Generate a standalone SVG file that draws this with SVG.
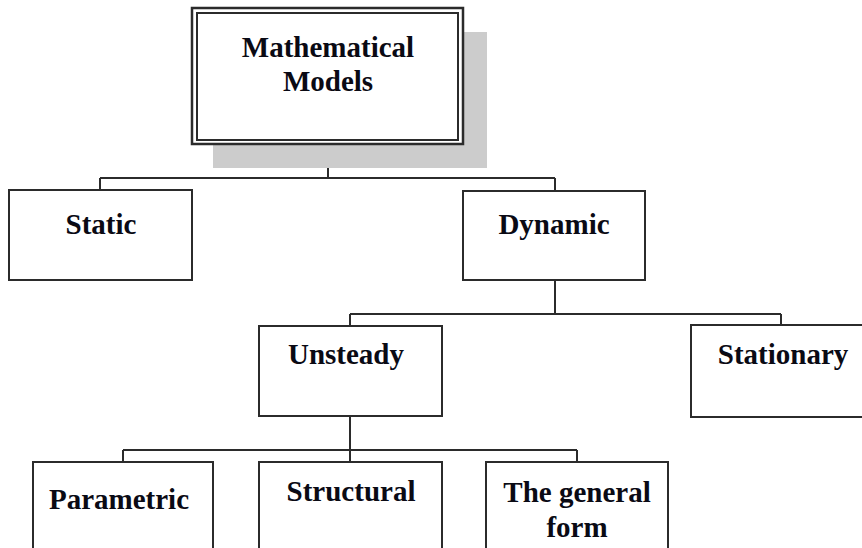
<svg xmlns="http://www.w3.org/2000/svg" width="862" height="548" viewBox="0 0 862 548">
<style>
.box{fill:#fff;stroke:#2b2b2b;stroke-width:2}
.lbl{font-family:"Liberation Serif","Times New Roman",serif;font-weight:bold;font-size:29px;fill:#0a0a14;text-anchor:middle}
.con{fill:none;stroke:#2b2b2b;stroke-width:2}
</style>
<rect width="862" height="548" fill="#fff"/>
<g id="connectors">
<path class="con" d="M328 145V178M100 178H555M100 178V190M555 178V191"/>
<path class="con" d="M555 280V314M350 314H781M350 314V326M781 314V325"/>
<path class="con" d="M350 416V462M123 450H577M123 450V462M577 450V462"/>
</g>
<g id="mathematical-models">
<rect x="213" y="32" width="274" height="136" fill="#cccccc"/>
<rect x="192" y="8" width="271" height="136" fill="#fff" stroke="#2b2b2b" stroke-width="2.5"/>
<rect x="197" y="13" width="261" height="127" fill="none" stroke="#2b2b2b" stroke-width="2"/>
<text class="lbl" x="328" y="57" font-size="30">Mathematical</text>
<text class="lbl" x="328" y="91" font-size="30">Models</text>
</g>
<g id="static">
<rect class="box" x="9" y="190" width="183" height="90"/>
<text class="lbl" x="101" y="234">Static</text>
</g>
<g id="dynamic">
<rect class="box" x="463" y="191" width="182" height="89"/>
<text class="lbl" x="554" y="234">Dynamic</text>
</g>
<g id="unsteady">
<rect class="box" x="259" y="326" width="183" height="90"/>
<text class="lbl" x="346" y="364">Unsteady</text>
</g>
<g id="stationary">
<rect class="box" x="691" y="325" width="180" height="92"/>
<text class="lbl" x="783" y="364">Stationary</text>
</g>
<g id="parametric">
<rect class="box" x="33" y="462" width="180" height="100"/>
<text class="lbl" x="119" y="509">Parametric</text>
</g>
<g id="structural">
<rect class="box" x="259" y="462" width="183" height="100"/>
<text class="lbl" x="351" y="501">Structural</text>
</g>
<g id="general-form">
<rect class="box" x="486" y="462" width="182" height="100"/>
<text class="lbl" x="577" y="502">The general</text>
<text class="lbl" x="577" y="537">form</text>
</g>
</svg>
